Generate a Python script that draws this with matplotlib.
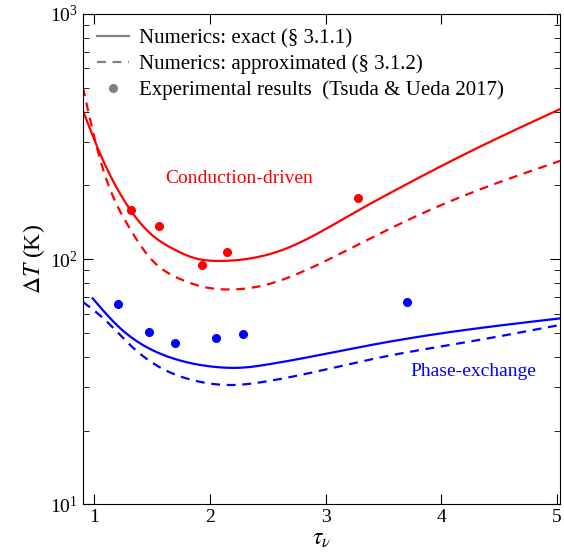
import numpy as np
import matplotlib.pyplot as plt
from matplotlib.lines import Line2D

plt.rcParams['font.family'] = ['Liberation Serif', 'DejaVu Serif']
plt.rcParams['mathtext.fontset'] = 'stix'

# Conduction-driven (red)
cond_x = [0.9, 1.035, 1.31, 1.497, 1.67, 1.872, 2.073, 2.30, 2.60, 3.30, 3.47, 4.25, 5.03]
cond_exact = [404, 279, 159, 125.6, 110.9, 100.9, 98.4, 100, 108, 160, 177, 275, 410]
cond_approx_x = [0.9, 1.05, 1.295, 1.497, 1.727, 1.95, 2.19, 2.477, 2.80, 3.30, 3.93, 5.03]
cond_approx = [502, 254, 136, 99.3, 83.6, 77.0, 75.3, 78.5, 89, 116, 161, 252]
cond_obs_x = [1.312, 1.56, 1.933, 2.146, 3.28]
cond_obs = [159, 136, 95, 107.5, 178]

# Phase-exchange (blue)
phase_x = [0.984, 1.208, 1.497, 1.727, 2.016, 2.30, 2.477, 3.47, 4.25, 5.03]
phase_exact = [69.3, 53.1, 42.7, 38.8, 36.5, 36.2, 37.1, 45.4, 51.8, 57.4]
phase_approx_x = [0.9, 1.093, 1.324, 1.612, 1.843, 2.19, 2.477, 3.51, 4.25, 5.03]
phase_approx = [67, 56.5, 44, 35.3, 32.2, 30.7, 31.7, 40.1, 46.2, 54.0]
phase_obs_x = [1.203, 1.474, 1.699, 2.047, 2.283, 3.707]
phase_obs = [65.9, 50.7, 45.7, 47.6, 49.7, 66.7]


def smooth(x, y, n=300):
    # natural cubic spline through the read points, in log space
    x = np.asarray(x, float)
    ly = np.log10(y)
    N = len(x)
    h = np.diff(x)
    A = np.zeros((N, N))
    b = np.zeros(N)
    A[0, 0] = A[-1, -1] = 1
    for i in range(1, N - 1):
        A[i, i - 1] = h[i - 1]
        A[i, i] = 2 * (h[i - 1] + h[i])
        A[i, i + 1] = h[i]
        b[i] = 3 * ((ly[i + 1] - ly[i]) / h[i] - (ly[i] - ly[i - 1]) / h[i - 1])
    c = np.linalg.solve(A, b)
    xs = np.linspace(x[0], x[-1], n)
    k = np.clip(np.searchsorted(x, xs, side='right') - 1, 0, N - 2)
    d = xs - x[k]
    bb = (ly[k + 1] - ly[k]) / h[k] - h[k] * (2 * c[k] + c[k + 1]) / 3
    dd = (c[k + 1] - c[k]) / (3 * h[k])
    return xs, 10**(ly[k] + bb * d + c[k] * d**2 + dd * d**3)


fig = plt.figure(figsize=(5.64, 5.59), dpi=100)
ax = fig.add_axes([0.147, 0.0975, 0.8466, 0.8775])

red = '#ff0000'
blue = '#0000ff'
ax.plot(*smooth(cond_x, cond_exact), color=red, lw=1.6)
ax.plot(*smooth(cond_approx_x, cond_approx), color=red, lw=1.6, ls=(0, (4, 3)))
ax.plot(cond_obs_x, cond_obs, 'o', color=red, ms=5.5)
ax.plot(*smooth(phase_x, phase_exact), color=blue, lw=1.6)
ax.plot(*smooth(phase_approx_x, phase_approx), color=blue, lw=1.6, ls=(0, (4, 3)))
ax.plot(phase_obs_x, phase_obs, 'o', color=blue, ms=5.5)

ax.set_yscale('log')
ax.set_xlim(0.9, 5.03)
ax.set_ylim(10, 1000)
ax.set_xticks([1, 2, 3, 4, 5])
ax.tick_params(which='both', direction='in', top=True, right=True, labelsize=14)
ax.tick_params(which='major', length=7)
ax.tick_params(which='minor', length=4)
ax.set_xlabel(r'$\tau_\nu$', fontsize=17, labelpad=2)
ax.set_ylabel(r'$\Delta T$ (K)', fontsize=17, labelpad=2)

ax.text(2.25, 214, 'Conduction-driven', color=red, fontsize=14, ha='center', va='center')
ax.text(4.28, 34.7, 'Phase-exchange', color=blue, fontsize=14, ha='center', va='center')

grey = '#808080'
handles = [Line2D([], [], color=grey, lw=1.6),
           Line2D([], [], color=grey, lw=1.6, ls=(0, (4, 3))),
           Line2D([], [], color=grey, marker='o', ls='none', ms=5.5)]
labels = ['Numerics: exact (§ 3.1.1)', 'Numerics: approximated (§ 3.1.2)',
          'Experimental results  (Tsuda & Ueda 2017)']
ax.legend(handles, labels, loc='upper left', frameon=False, fontsize=15,
          handlelength=1.5, handletextpad=0.5, labelspacing=0.3,
          borderaxespad=0.3, bbox_to_anchor=(0.0, 1.0))

fig.savefig('out.png', dpi=100)
